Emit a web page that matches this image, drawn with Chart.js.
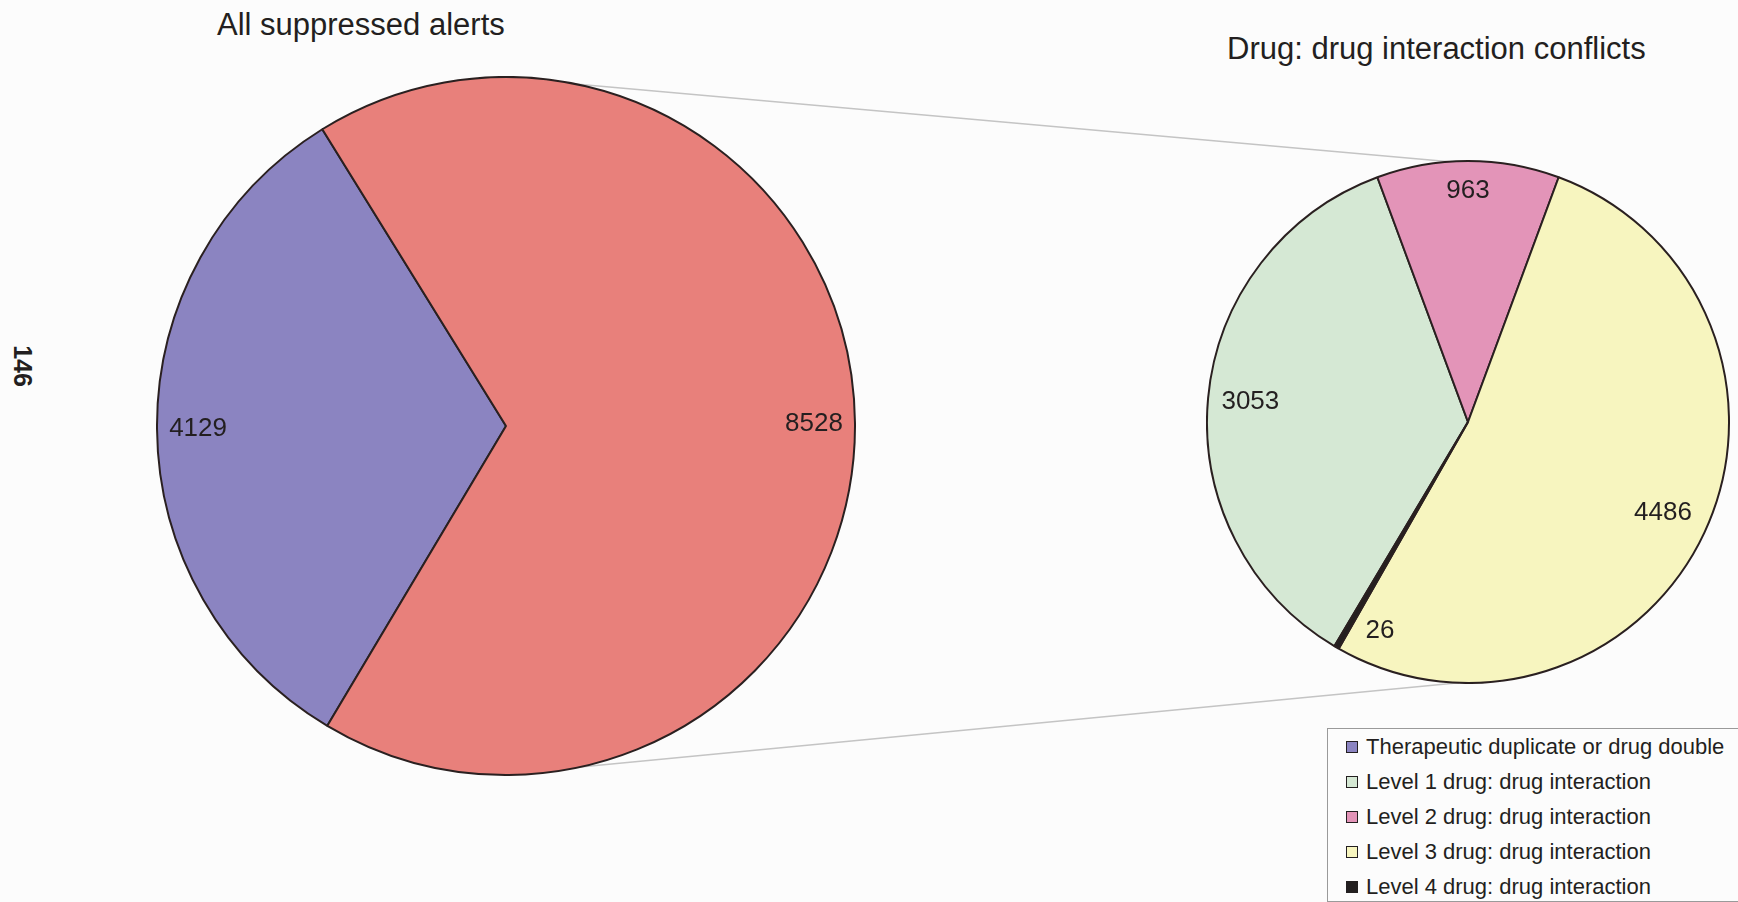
<!DOCTYPE html>
<html>
<head>
<meta charset="utf-8">
<script src="https://cdn.jsdelivr.net/npm/chart.js@4"></script>
<style>
    html, body {
        margin: 0;
        padding: 0;
        width: 1738px;
        height: 902px;
        overflow: hidden;
        background: #fcfcfc;
        font-family: "Liberation Sans", Arial, sans-serif;
        color: #231f20;
    }
    .pie {
        position: absolute;
        z-index: 1;
    }
    #connectors {
        position: absolute;
        left: 0;
        top: 0;
        z-index: 0;
    }
    .title {
        position: absolute;
        font-size: 31px;
        line-height: 31px;
        white-space: nowrap;
    }
    .page-number {
        position: absolute;
        left: 22px;
        top: 366px;
        font-size: 25px;
        font-weight: bold;
        transform: translate(-50%, -50%) rotate(90deg);
    }
    .legend {
        position: absolute;
        left: 1327px;
        top: 728px;
        width: 440px;
        height: 172px;
        border: 1px solid #9a9a9a;
        background: #fcfcfc;
        z-index: 2;
    }
    .legend__row {
        display: flex;
        align-items: center;
        height: 35px;
        font-size: 22px;
        white-space: nowrap;
    }
    .legend__box {
        width: 10px;
        height: 10px;
        margin: 0 8px 0 18px;
        border: 1.5px solid #231f20;
    }
</style>
</head>
<body>
    <div class="title" style="left:217px; top:9px;">All suppressed alerts</div>
    <div class="title" style="left:1227px; top:33px;">Drug: drug interaction conflicts</div>
    <div class="page-number">146</div>

    <canvas id="connectors" width="1738" height="902"></canvas>
    <canvas id="allAlerts" class="pie" width="700" height="700" style="left:156px; top:76px;"></canvas>
    <canvas id="ddiAlerts" class="pie" width="524" height="524" style="left:1206px; top:160px;"></canvas>

    <div id="legend" class="legend"></div>

<script>
// all suppressed alerts
const allLabels = ['Therapeutic duplicate or drug double', 'Drug: drug interaction conflicts'];
const allValues = [4129, 8528];
const allColors = ['#8b84c1', '#e8807b'];

// drug: drug interaction conflicts (the 8528 slice split up)
const ddiLabels = [
    'Level 1 drug: drug interaction',
    'Level 2 drug: drug interaction',
    'Level 3 drug: drug interaction',
    'Level 4 drug: drug interaction',
];
const ddiValues = [3053, 963, 4486, 26];
const ddiColors = ['#d5e8d4', '#e394b8', '#f7f5bf', '#231f20'];

// labels sit just inside the rim, like excel's "inside end"
const valueLabels = {
    id: 'valueLabels',
    afterDatasetsDraw(chart, args, opts) {
        const { ctx } = chart;
        const values = chart.data.datasets[0].data;

        ctx.save();
        ctx.font = `${opts.size}px "Liberation Sans", Arial, sans-serif`;
        ctx.fillStyle = '#231f20';
        ctx.textAlign = 'center';
        ctx.textBaseline = 'middle';
        chart.getDatasetMeta(0).data.forEach((arc, i) => {
            const text = String(values[i]);
            let angle = (arc.startAngle + arc.endAngle) / 2;

            // tiny slices: put the label beside the slice instead of on it
            if (arc.endAngle - arc.startAngle < 0.05) angle = arc.startAngle - 0.12;

            const cos = Math.cos(angle);
            const sin = Math.sin(angle);
            const w = ctx.measureText(text).width;
            const h = opts.size * 1.4;
            const d = arc.outerRadius - opts.margin - Math.abs(cos) * w / 2 - Math.abs(sin) * h / 2;
            ctx.fillText(text, arc.x + cos * d, arc.y + sin * d);
        });
        ctx.restore();
    }
}

const makePie = (id, labels, values, colors) => {
    const ctx = document.getElementById(id).getContext('2d');

    return new Chart(ctx, {
        type: 'pie',
        data: {
            labels: labels,
            datasets: [{
                data: values,
                backgroundColor: colors,
                borderColor: '#2a2020',
                borderWidth: 2,
            }]
        },
        options: {
            responsive: false,
            animation: false,
            rotation: 210.8,
            layout: { padding: 0 },
            plugins: {
                legend: { display: false },
                tooltip: { enabled: false },
                valueLabels: { size: 26, margin: 12 },
            }
        },
        plugins: [valueLabels]
    });
}

// point on the rim, angle in degrees clockwise from 12 o'clock
const rimPoint = (chart, deg) => {
    const arc = chart.getDatasetMeta(0).data[0];
    const box = chart.canvas.getBoundingClientRect();
    const a = deg * Math.PI / 180;

    return {
        x: box.left + arc.x + Math.sin(a) * arc.outerRadius,
        y: box.top + arc.y - Math.cos(a) * arc.outerRadius,
    };
}

const drawConnectors = (left, right) => {
    const ctx = document.getElementById('connectors').getContext('2d');

    ctx.strokeStyle = '#c4c4c4';
    ctx.lineWidth = 1.5;

    [[11.5, -4], [167.7, 182]].forEach(([from, to]) => {
        const p = rimPoint(left, from);
        const q = rimPoint(right, to);
        ctx.beginPath();
        ctx.moveTo(p.x, p.y);
        ctx.lineTo(q.x, q.y);
        ctx.stroke();
    });
}

const buildLegend = () => {
    const legend = document.getElementById('legend');
    const items = [[allLabels[0], allColors[0]]]
        .concat(ddiLabels.map((label, i) => [label, ddiColors[i]]));

    items.forEach(([label, color]) => {
        legend.insertAdjacentHTML('beforeend', `
            <div class="legend__row">
                <span class="legend__box" style="background:${color}"></span>
                <span>${label}</span>
            </div>
        `);
    });
}

window.onload = () => {
    const left = makePie('allAlerts', allLabels, allValues, allColors);
    const right = makePie('ddiAlerts', ddiLabels, ddiValues, ddiColors);

    drawConnectors(left, right);
    buildLegend();
}
</script>
</body>
</html>
